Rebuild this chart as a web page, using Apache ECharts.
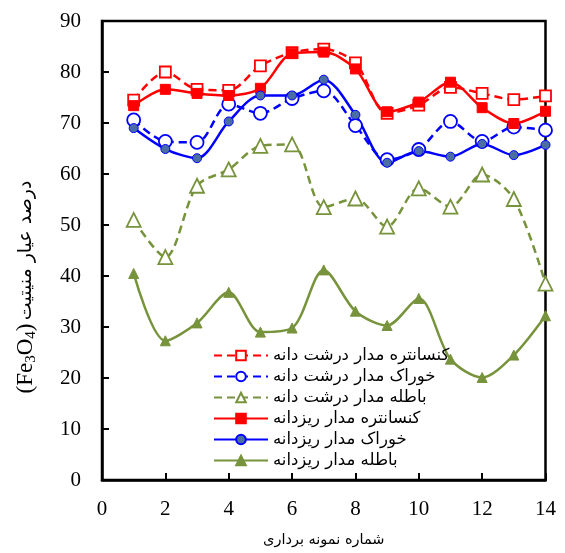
<!DOCTYPE html>
<html>
<head>
<meta charset="utf-8">
<script src="https://cdn.jsdelivr.net/npm/echarts@6/dist/echarts.min.js"></script>
<style>html,body{margin:0;padding:0;background:#fff}#c{width:565px;height:553px}</style>
</head>
<body>
<div id="c"></div>
<script>
const samples = [1,2,3,4,5,6,7,8,9,10,11,12,13,14];
const xTicks = [0,2,4,6,8,10,12,14];
const yTicks = [0,10,20,30,40,50,60,70,80,90];
const seriesNames = [
  'کنسانتره مدار درشت دانه',
  'خوراک مدار درشت دانه',
  'باطله مدار درشت دانه',
  'کنسانتره مدار ریزدانه',
  'خوراک مدار ریزدانه',
  'باطله مدار ریزدانه'
];
const concCoarse = [74.5,80.0,76.6,76.4,81.2,83.8,84.5,81.8,71.9,73.5,77.0,75.8,74.6,75.3];
const feedCoarse = [70.6,66.4,66.2,73.7,71.9,74.8,76.3,69.5,62.8,64.8,70.3,66.4,69.2,68.6];
const tailCoarse = [51.0,43.7,57.7,60.9,65.5,65.8,53.5,55.2,49.7,57.2,53.6,59.9,55.1,38.5];
const concFine   = [73.4,76.6,75.8,75.4,76.8,83.6,83.9,80.6,72.2,74.1,78.0,73.0,69.9,72.3];
const feedFine   = [69.0,64.9,63.1,70.3,75.4,75.4,78.5,71.6,62.2,64.5,63.4,65.9,63.7,65.7];
const tailFine   = [40.5,27.3,30.8,36.8,29.0,29.8,41.2,33.1,30.3,35.6,23.7,20.1,24.5,32.2];

const pair = arr => samples.map((x,i)=>[x, arr[i]]);
const RED='#FF0000', BLUE='#0000FF', GREEN='#77933C', BFILL='#4A6EA3';
const dash=[8,5];
function s(name, data, color, dashed, symbol, size, fill){
  return {
    name, type:'line', data:pair(data), smooth:0.3,
    symbol, symbolSize:size, showSymbol:true,
    lineStyle:{color, width:2.5, type: dashed? dash : 'solid'},
    itemStyle:{color: fill, borderColor:color, borderWidth: dashed?1.8:1},
    emphasis:{disabled:true}, animation:false
  };
}
const chart = echarts.init(document.getElementById('c'), null, {renderer:'canvas'});
chart.setOption({
  backgroundColor:'#fff',
  animation:false,
  grid:{left:102, right:19.5, top:21, bottom:72, show:true, borderColor:'#000', borderWidth:2.5, backgroundColor:'transparent'},
  xAxis:{
    type:'value', min:0, max:14, interval:2,
    axisLine:{show:true, onZero:false, lineStyle:{color:'#000', width:2.5}},
    axisTick:{show:true, inside:true, length:7, lineStyle:{color:'#000', width:2}},
    splitLine:{show:false},
    axisLabel:{color:'#000', fontFamily:'Liberation Serif', fontSize:21, margin:19,
      formatter:v=> xTicks.includes(v)? String(v):''},
    name:'شماره نمونه برداری', nameLocation:'middle', nameGap:53,
    nameTextStyle:{color:'#000', fontFamily:'DejaVu Sans', fontSize:14.5}
  },
  yAxis:{
    type:'value', min:0, max:90, interval:10,
    axisLine:{show:true, lineStyle:{color:'#000', width:2.5}},
    axisTick:{show:true, inside:true, length:7, lineStyle:{color:'#000', width:2}},
    splitLine:{show:false},
    axisLabel:{color:'#000', fontFamily:'Liberation Serif', fontSize:21, margin:21,
      formatter:v=> yTicks.includes(v)? String(v):''}
  },
  legend:{
    orient:'vertical', left:208, top:342, itemWidth:54, itemHeight:12, itemGap:4,
    textStyle:{color:'#000', fontFamily:'DejaVu Sans', fontSize:16.5},
    data:seriesNames, selectedMode:false, backgroundColor:'transparent'
  },
  graphic:[{
    type:'text', x:26, y:287, rotation:Math.PI/2,
    style:{
      text:'{a|(Fe}{b|3}{a|O}{b|4}{a|)} {p|درصد عیار منیتیت}',
      align:'center', verticalAlign:'middle',
      rich:{
        a:{fontFamily:'Liberation Serif', fontSize:23, fill:'#000', verticalAlign:'middle'},
        b:{fontFamily:'Liberation Serif', fontSize:15, fill:'#000', verticalAlign:'bottom', padding:[11,0,0,0]},
        p:{fontFamily:'DejaVu Sans', fontSize:19, fill:'#000', verticalAlign:'middle'}
      }
    }
  }],
  series:[
    s(seriesNames[0], concCoarse, RED, true, 'rect', 11, '#fff'),
    s(seriesNames[1], feedCoarse, BLUE, true, 'circle', 13, '#fff'),
    s(seriesNames[2], tailCoarse, GREEN, true, 'triangle', 14, '#fff'),
    s(seriesNames[3], concFine, RED, false, 'rect', 10, RED),
    s(seriesNames[4], feedFine, BLUE, false, 'circle', 9, BFILL),
    s(seriesNames[5], tailFine, GREEN, false, 'triangle', 10, GREEN)
  ]
});
</script>
</body>
</html>
